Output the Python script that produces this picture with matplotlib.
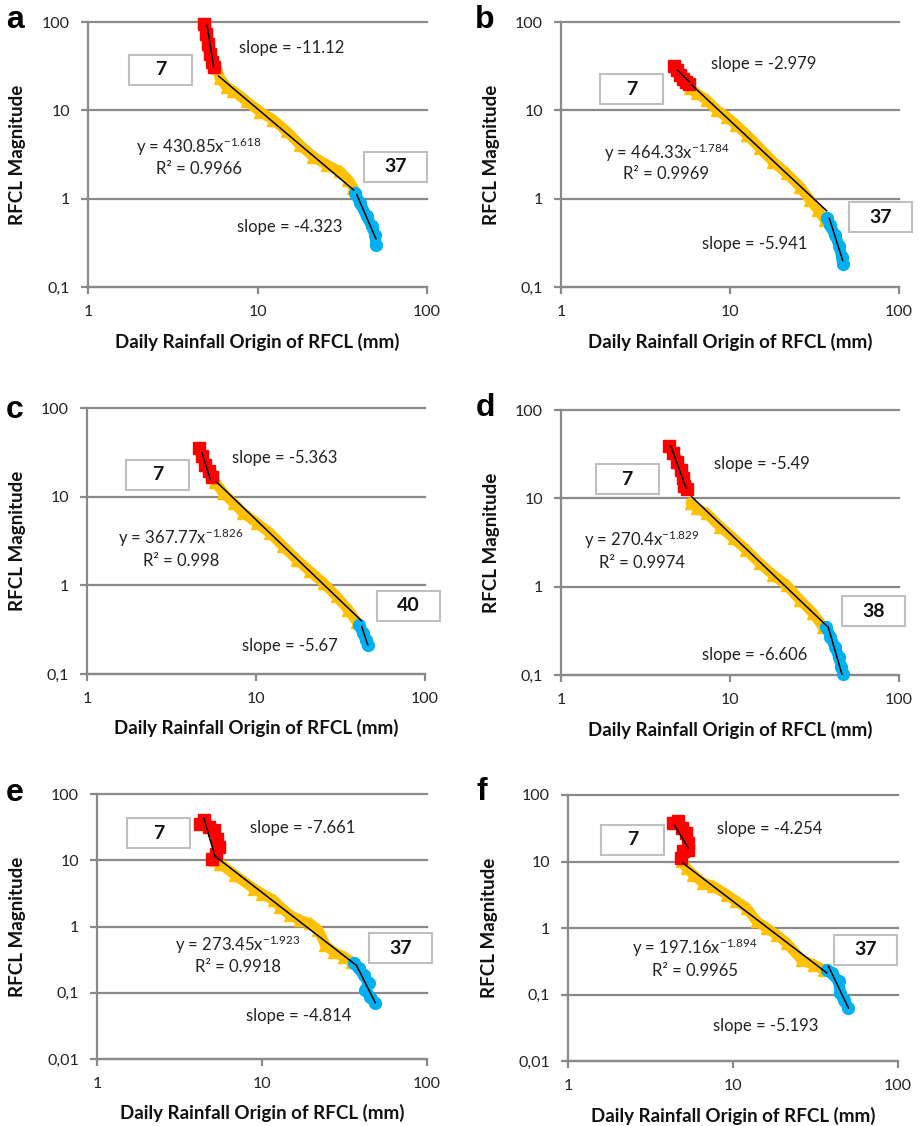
import matplotlib
matplotlib.use("Agg")
import matplotlib.pyplot as plt
from matplotlib.patches import Rectangle
from matplotlib.ticker import NullLocator
import numpy as np

# ---------------- data ----------------
x_ticks = [1, 10, 100]
x_tick_labels = ["1", "10", "100"]
y_ticks_4 = [0.1, 1, 10, 100]
y_tick_labels_4 = ["0,1", "1", "10", "100"]
y_ticks_5 = [0.01, 0.1, 1, 10, 100]
y_tick_labels_5 = ["0,01", "0,1", "1", "10", "100"]

x_label = "Daily Rainfall Origin of RFCL (mm)"
y_label = "RFCL Magnitude"

# panel a
a_red_x = [4.86, 4.99, 5.08, 5.22, 5.39, 5.51]
a_red_y = [95.7, 73.8, 56.9, 43.9, 35.3, 31.0]
a_red_trend_x = [5.04, 5.51]
a_red_trend_y = [91.7, 31.0]
a_org_x = [5.74, 6.01, 6.58, 7.2, 8.63, 10.35, 12.4, 14.9, 17.8, 21.3, 25.6, 30.7, 34.3, 36.8]
a_org_y = [30, 23.1, 18.3, 16.7, 12.6, 9.7, 7.8, 5.76, 4.07, 3.0, 2.42, 2.04, 1.64, 1.32]
a_fit = (430.85, -1.618)
a_fit_x = [5.9, 37.0]
a_blue_x = [37.6, 40.3, 44.1, 47.2, 49.3, 50.0]
a_blue_y = [1.16, 0.89, 0.63, 0.49, 0.39, 0.30]
a_blue_trend_x = [38.5, 50.0]
a_blue_trend_y = [1.11, 0.35]
a_labels = ["-11.12", "-4.323", "430.85", "-1.618", "0.9966", "7", "37"]

# panel b
b_red_x = [4.66, 4.84, 5.06, 5.29, 5.5, 5.7]
b_red_y = [31.8, 28.6, 25.1, 22.4, 21.0, 19.9]
b_red_trend_x = [4.88, 5.74]
b_red_trend_y = [28.6, 21.1]
b_org_x = [5.8, 6.35, 7.28, 8.34, 9.55, 10.9, 12.6, 15.1, 18.0, 21.6, 25.9, 29.7, 33.3, 36.5]
b_org_y = [17.7, 15.6, 13.1, 10.1, 8.48, 6.82, 5.26, 3.71, 2.62, 1.94, 1.37, 0.97, 0.74, 0.57]
b_fit = (464.33, -1.784)
b_fit_x = [5.9, 37.3]
b_blue_x = [37.3, 39.0, 41.8, 44.4, 45.8, 46.4]
b_blue_y = [0.60, 0.50, 0.39, 0.29, 0.22, 0.18]
b_blue_trend_x = [38.7, 46.4]
b_blue_trend_y = [0.6, 0.2]
b_labels = ["-2.979", "-5.941", "464.33", "-1.784", "0.9969", "7", "37"]

# panel c
c_red_x = [4.63, 4.78, 5.01, 5.24, 5.48]
c_red_y = [35.4, 28.5, 22.9, 19.3, 16.7]
c_red_trend_x = [4.78, 5.36]
c_red_trend_y = [31.6, 15.8]
c_org_x = [5.74, 6.42, 7.36, 8.43, 10.1, 12.1, 14.5, 17.4, 20.9, 25.1, 30.0, 35.2, 39.4]
c_org_y = [14.5, 11.0, 8.49, 6.54, 5.05, 3.89, 2.75, 1.95, 1.44, 1.06, 0.75, 0.53, 0.39]
c_fit = (367.77, -1.826)
c_fit_x = [5.85, 42.0]
c_blue_x = [40.9, 42.8, 44.6, 45.8]
c_blue_y = [0.36, 0.29, 0.24, 0.21]
c_blue_trend_x = [42.2, 45.8]
c_blue_trend_y = [0.345, 0.214]
c_labels = ["-5.363", "-5.67", "367.77", "-1.826", "0.998", "7", "40"]

# panel d
d_red_x = [4.38, 4.63, 4.89, 5.11, 5.26, 5.35, 5.55]
d_red_y = [39.1, 32.3, 26.0, 20.9, 16.8, 13.8, 12.6]
d_red_trend_x = [4.46, 5.50]
d_red_trend_y = [39.1, 13.0]
d_org_x = [5.86, 6.36, 7.28, 8.73, 10.5, 12.5, 15.0, 18.0, 21.6, 25.9, 31.0, 35.6]
d_org_y = [8.93, 7.70, 6.76, 4.78, 3.52, 2.60, 1.84, 1.36, 1.04, 0.71, 0.50, 0.35]
d_fit = (270.4, -1.829)
d_fit_x = [5.94, 37.2]
d_blue_x = [37.2, 39.3, 41.7, 44.0, 45.6, 46.7]
d_blue_y = [0.35, 0.27, 0.21, 0.16, 0.124, 0.102]
d_blue_trend_x = [38.1, 46.1]
d_blue_trend_y = [0.35, 0.10]
d_labels = ["-5.49", "-6.606", "270.4", "-1.829", "0.9974", "7", "38"]

# panel e
e_red_x = [4.23, 4.47, 4.75, 5.09, 5.34, 5.46, 5.29, 4.98]
e_red_y = [35.7, 41.0, 31.8, 28.3, 21.2, 15.9, 12.6, 10.6]
e_red_trend_x = [4.43, 5.21]
e_red_trend_y = [44.0, 11.2]
e_org_x = [5.21, 5.59, 6.89, 8.9, 10.0, 11.8, 12.9, 14.8, 17.1, 19.6, 22.0, 24.2, 27.2, 31.2, 35.1]
e_org_y = [10.0, 8.9, 5.94, 3.74, 3.14, 2.49, 1.98, 1.48, 1.24, 1.11, 0.88, 0.52, 0.415, 0.35, 0.29]
e_fit = (273.45, -1.923)
e_fit_x = [5.21, 36.8]
e_blue_x = [35.9, 38.5, 41.3, 44.3, 42.3, 45.4, 48.6]
e_blue_y = [0.277, 0.233, 0.185, 0.138, 0.11, 0.087, 0.069]
e_blue_trend_x = [37.3, 48.6]
e_blue_trend_y = [0.261, 0.0707]
e_labels = ["-7.661", "-4.814", "273.45", "-1.923", "0.9918", "7", "37"]

# panel f
f_red_x = [4.34, 4.66, 4.88, 5.18, 5.35, 5.35, 4.99, 4.81]
f_red_y = [38.1, 40.4, 32.1, 26.9, 19.0, 15.1, 14.3, 11.3]
f_red_trend_x = [4.44, 5.35]
f_red_trend_y = [34.7, 16.0]
f_org_x = [4.88, 5.23, 5.74, 6.6, 7.6, 9.15, 10.5, 12.1, 13.9, 16.0, 18.4, 21.2, 26.1, 30.8, 35.4]
f_org_y = [10.1, 8.0, 6.35, 4.76, 4.24, 3.18, 2.52, 2.0, 1.26, 1.0, 0.79, 0.59, 0.33, 0.28, 0.236]
f_fit = (197.16, -1.894)
f_fit_x = [4.95, 37.0]
f_blue_x = [37.0, 39.7, 43.6, 44.7, 46.8, 50.1]
f_blue_y = [0.236, 0.21, 0.157, 0.105, 0.083, 0.0625]
f_blue_trend_x = [37.9, 50.1]
f_blue_trend_y = [0.265, 0.0625]
f_labels = ["-4.254", "-5.193", "197.16", "-1.894", "0.9965", "7", "37"]

# ---------------- layout / style ----------------
W, H, DPI = 919, 1126, 100
RED, ORANGE, BLUE = "#FF0000", "#FFC000", "#00B0F0"
GRAY = "#898989"
BOXGRAY = "#BFBFBF"

plt.rcParams["font.family"] = ["Lato", "DejaVu Sans"]
plt.rcParams["mathtext.fontset"] = "custom"
plt.rcParams["mathtext.rm"] = "Lato"
plt.rcParams["mathtext.it"] = "Lato:italic"
plt.rcParams["mathtext.bf"] = "Lato:bold"

panels = [
    dict(letter="a", rect=(88, 22, 427, 287), ymin=0.1, yt=(y_ticks_4, y_tick_labels_4),
         red=(a_red_x, a_red_y), red_tr=(a_red_trend_x, a_red_trend_y),
         org=(a_org_x, a_org_y), fit=a_fit, fit_x=a_fit_x,
         blue=(a_blue_x, a_blue_y), blue_tr=(a_blue_trend_x, a_blue_trend_y), labels=a_labels,
         pos=[(0.602, 0.900), (0.595, 0.226), (0.326, 0.529), (0.326, 0.444), (0.215, 0.819), (0.908, 0.454)],
         letter_xy=(15, 20), ylab_xy=(18, 154.5), xlab_xy=(257.5, 342)),
    dict(letter="b", rect=(561, 22, 899, 287), ymin=0.1, yt=(y_ticks_4, y_tick_labels_4),
         red=(b_red_x, b_red_y), red_tr=(b_red_trend_x, b_red_trend_y),
         org=(b_org_x, b_org_y), fit=b_fit, fit_x=b_fit_x,
         blue=(b_blue_x, b_blue_y), blue_tr=(b_blue_trend_x, b_blue_trend_y), labels=b_labels,
         pos=[(0.601, 0.842), (0.573, 0.164), (0.312, 0.508), (0.312, 0.428), (0.208, 0.746), (0.945, 0.264)],
         letter_xy=(485, 20), ylab_xy=(492, 154.5), xlab_xy=(730, 342)),
    dict(letter="c", rect=(87, 408, 425, 674), ymin=0.1, yt=(y_ticks_4, y_tick_labels_4),
         red=(c_red_x, c_red_y), red_tr=(c_red_trend_x, c_red_trend_y),
         org=(c_org_x, c_org_y), fit=c_fit, fit_x=c_fit_x,
         blue=(c_blue_x, c_blue_y), blue_tr=(c_blue_trend_x, c_blue_trend_y), labels=c_labels,
         pos=[(0.586, 0.812), (0.601, 0.105), (0.278, 0.511), (0.278, 0.425), (0.208, 0.75), (0.950, 0.257)],
         letter_xy=(15, 410), ylab_xy=(18, 541), xlab_xy=(256, 728)),
    dict(letter="d", rect=(561, 410, 899, 675), ymin=0.1, yt=(y_ticks_4, y_tick_labels_4),
         red=(d_red_x, d_red_y), red_tr=(d_red_trend_x, d_red_trend_y),
         org=(d_org_x, d_org_y), fit=d_fit, fit_x=d_fit_x,
         blue=(d_blue_x, d_blue_y), blue_tr=(d_blue_trend_x, d_blue_trend_y), labels=d_labels,
         pos=[(0.594, 0.795), (0.574, 0.075), (0.239, 0.509), (0.239, 0.424), (0.196, 0.739), (0.924, 0.240)],
         letter_xy=(485, 408), ylab_xy=(492, 542.5), xlab_xy=(730, 730)),
    dict(letter="e", rect=(97, 794, 427, 1059), ymin=0.01, yt=(y_ticks_5, y_tick_labels_5),
         red=(e_red_x, e_red_y), red_tr=(e_red_trend_x, e_red_trend_y),
         org=(e_org_x, e_org_y), fit=e_fit, fit_x=e_fit_x,
         blue=(e_blue_x, e_blue_y), blue_tr=(e_blue_trend_x, e_blue_trend_y), labels=e_labels,
         pos=[(0.624, 0.872), (0.611, 0.162), (0.426, 0.430), (0.426, 0.347), (0.187, 0.851), (0.919, 0.418)],
         letter_xy=(15, 793), ylab_xy=(18, 926.5), xlab_xy=(262, 1113)),
    dict(letter="f", rect=(568, 795, 898, 1061), ymin=0.01, yt=(y_ticks_5, y_tick_labels_5),
         red=(f_red_x, f_red_y), red_tr=(f_red_trend_x, f_red_trend_y),
         org=(f_org_x, f_org_y), fit=f_fit, fit_x=f_fit_x,
         blue=(f_blue_x, f_blue_y), blue_tr=(f_blue_trend_x, f_blue_trend_y), labels=f_labels,
         pos=[(0.610, 0.873), (0.600, 0.132), (0.385, 0.424), (0.385, 0.339), (0.196, 0.832), (0.902, 0.419)],
         letter_xy=(482, 792), ylab_xy=(490, 928), xlab_xy=(733, 1116)),
]

fig = plt.figure(figsize=(W / DPI, H / DPI), dpi=DPI)


def fx(px):
    return px / W


def fy(py):
    return 1 - py / H


for p in panels:
    l, t, r, b = p["rect"]
    ax = fig.add_axes([l / W, 1 - b / H, (r - l) / W, (b - t) / H])
    ax.set_xscale("log")
    ax.set_yscale("log")
    ax.set_xlim(1, 100)
    ax.set_ylim(p["ymin"], 100)
    ax.set_xticks(x_ticks)
    ax.set_xticklabels(x_tick_labels)
    ax.set_yticks(p["yt"][0])
    ax.set_yticklabels(p["yt"][1])
    ax.xaxis.set_minor_locator(NullLocator())
    ax.yaxis.set_minor_locator(NullLocator())
    for s in ["top", "right"]:
        ax.spines[s].set_visible(False)
    for s in ["left", "bottom"]:
        ax.spines[s].set_color(GRAY)
        ax.spines[s].set_linewidth(1.6)
    ax.tick_params(axis="both", length=5, width=1.6, color=GRAY, labelsize=11.5,
                   labelcolor="#222222", pad=8)
    ax.yaxis.grid(True, color=GRAY, lw=1.6)
    for gl in ax.get_ygridlines():
        gl.set_clip_on(False)
    ax.set_axisbelow(True)

    # series bands
    ax.plot(*p["org"], color=ORANGE, lw=7.5, marker="^", ms=9, mec=ORANGE, zorder=3,
            solid_capstyle="round", solid_joinstyle="round", clip_on=False)
    ax.plot(*p["red"], color=RED, lw=8, marker="s", ms=8, mec=RED, zorder=3,
            solid_capstyle="round", solid_joinstyle="round", clip_on=False)
    ax.plot(*p["blue"], color=BLUE, lw=8, marker="o", ms=8.5, mec=BLUE, zorder=3,
            solid_capstyle="round", solid_joinstyle="round", clip_on=False)

    # trend lines
    a_c, a_e = p["fit"]
    fxs = np.array(p["fit_x"])
    ax.plot(fxs, a_c * fxs ** a_e, color="black", lw=1.1, zorder=4)
    ax.plot(*p["red_tr"], color="black", lw=1.1, zorder=4, clip_on=False)
    ax.plot(*p["blue_tr"], color="black", lw=1.1, zorder=4)

    lab = p["labels"]
    pos = p["pos"]
    tcol = "#222222"
    ax.text(*pos[0], f"slope = {lab[0]}", transform=ax.transAxes, ha="center", va="center",
            fontsize=12, color=tcol)
    ax.text(*pos[1], f"slope = {lab[1]}", transform=ax.transAxes, ha="center", va="center",
            fontsize=12, color=tcol)
    ax.text(*pos[2], f"y = {lab[2]}x$^{{{lab[3]}}}$", transform=ax.transAxes, ha="center",
            va="center", fontsize=12, color=tcol)
    ax.text(*pos[3], f"R\u00b2 = {lab[4]}", transform=ax.transAxes, ha="center", va="center",
            fontsize=12, color=tcol)

    # boxes
    bw = 63 / (r - l)
    bh = 30 / (b - t)
    for (cx, cy), txt in ((pos[4], lab[5]), (pos[5], lab[6])):
        ax.add_patch(Rectangle((cx - bw / 2, cy - bh / 2), bw, bh, transform=ax.transAxes,
                               facecolor="white", edgecolor=BOXGRAY, lw=1.5, clip_on=False,
                               zorder=5))
        ax.text(cx, cy, txt, transform=ax.transAxes, ha="center", va="center",
                fontsize=14, fontweight="bold", color="#111111", zorder=6)

    # labels
    fig.text(fx(p["xlab_xy"][0]), fy(p["xlab_xy"][1]), x_label, ha="center", va="center",
             fontsize=13.5, fontweight="bold", color="#111111")
    fig.text(fx(p["ylab_xy"][0]), fy(p["ylab_xy"][1]), y_label, ha="center", va="center",
             rotation=90, fontsize=13.5, fontweight="bold", color="#111111")
    fig.text(fx(p["letter_xy"][0]), fy(p["letter_xy"][1]), p["letter"], ha="center",
             va="center", fontsize=23, fontweight="bold", family="Liberation Sans",
             color="black")

fig.savefig("out.png", dpi=DPI, facecolor="white")
